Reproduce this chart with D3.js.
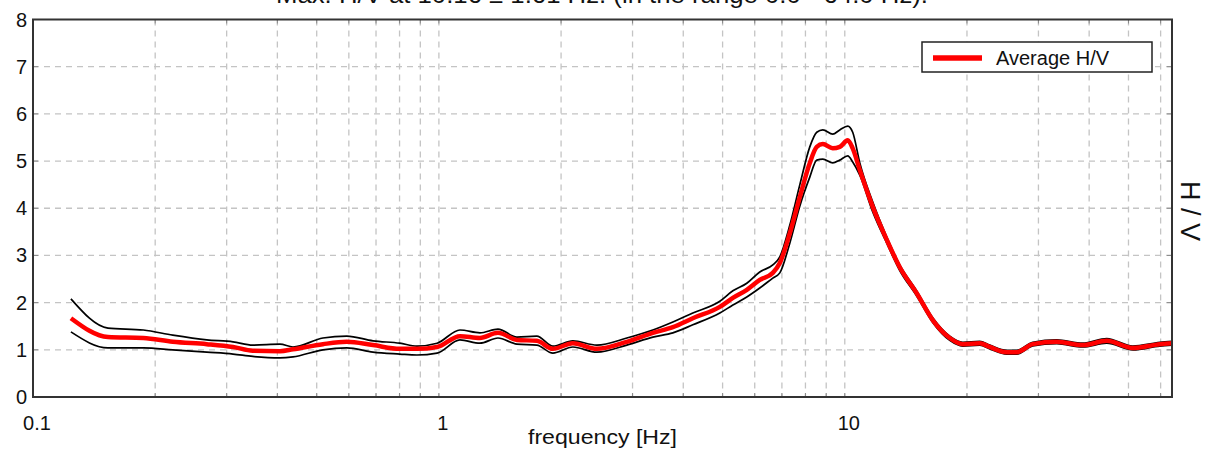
<!DOCTYPE html>
<html><head><meta charset="utf-8">
<script src="https://cdn.jsdelivr.net/npm/d3@7"></script>
<style>body{margin:0;background:#fff}svg{display:block;font-family:Arial,"Liberation Sans",sans-serif}</style>
</head><body><svg id="c" width="1208" height="450"></svg>
<script>
const freq = [0.124,0.153,0.187,0.221,0.268,0.311,0.348,0.406,0.437,0.518,0.593,0.688,0.801,0.883,0.99,1.127,1.262,1.398,1.557,1.743,1.909,2.138,2.45,2.904,3.366,3.771,4.223,4.922,5.30,5.736,6.174,6.648,6.917,7.32,7.75,8.20,8.53,8.83,9.34,9.72,10.17,10.46,10.89,11.72,12.69,13.66,15.04,16.47,18.14,19.53,21.5,22.76,25.06,26.52,29.04,33.29,38.57,44.19,51.21,59.7,64];
const avgHV = [1.67,1.27,1.25,1.17,1.12,1.06,0.98,0.97,1.01,1.12,1.17,1.10,1.02,1.02,1.06,1.29,1.25,1.36,1.21,1.19,1.02,1.14,1.02,1.17,1.36,1.48,1.67,1.91,2.10,2.27,2.48,2.63,2.84,3.47,4.24,4.96,5.30,5.36,5.27,5.30,5.44,5.27,4.81,4.03,3.33,2.75,2.20,1.63,1.25,1.12,1.14,1.06,0.95,0.95,1.12,1.17,1.10,1.19,1.04,1.12,1.14];
const upperHV = [2.08,1.46,1.42,1.31,1.21,1.17,1.10,1.12,1.06,1.25,1.29,1.19,1.14,1.08,1.14,1.42,1.36,1.44,1.27,1.29,1.08,1.19,1.10,1.25,1.42,1.59,1.78,2.03,2.25,2.41,2.65,2.80,2.97,3.64,4.50,5.30,5.61,5.66,5.57,5.66,5.74,5.61,4.96,4.13,3.39,2.80,2.25,1.68,1.29,1.16,1.18,1.10,0.99,0.99,1.16,1.21,1.14,1.24,1.08,1.16,1.18];
const lowerHV = [1.38,1.04,1.04,1.00,0.95,0.91,0.86,0.83,0.85,1.00,1.04,0.95,0.91,0.89,0.93,1.21,1.14,1.25,1.12,1.10,0.93,1.06,0.95,1.10,1.27,1.36,1.53,1.78,1.95,2.12,2.31,2.52,2.63,3.26,4.05,4.66,5.02,5.04,4.96,5.02,5.11,4.98,4.70,3.92,3.26,2.68,2.14,1.58,1.20,1.08,1.10,1.02,0.91,0.91,1.08,1.13,1.06,1.14,1.00,1.08,1.10];
const yTicks = [0,1,2,3,4,5,6,7,8];
const xTickLabels = [0.1,1,10];
const titleText = "Max. H/V at 10.16 \u00b1 1.61 Hz. (in the range 0.0 - 64.0 Hz).";
const xLabel = "frequency [Hz]";
const yLabel = "H / V";
const legendLabel = "Average H/V";

const svg = d3.select("#c");
const L = 33, R = 1172, T = 19.5, B = 397;
const x = d3.scaleLog().domain([0.1, 64]).range([L, R]);
const y = d3.scaleLinear().domain([0, 8]).range([B, T]);
const txt = "#111";

// title (cut at the top edge, as in the reference)
svg.append("text").attr("x", 276).attr("y", 3)
  .attr("font-size", 24).attr("fill", txt)
  .attr("textLength", 652).attr("lengthAdjust", "spacingAndGlyphs").text(titleText);

// grid
const gridX = x.ticks().filter(d => d > 0.1 && d < 64);
const g = svg.append("g").attr("stroke", "#c4c4c4").attr("stroke-width", 1.3).attr("stroke-dasharray", "6,5");
g.selectAll(".gx").data(gridX).join("line")
  .attr("x1", d => x(d)).attr("x2", d => x(d)).attr("y1", T).attr("y2", B);
g.selectAll(".gy").data(yTicks.filter(d => d > 0 && d < 8)).join("line")
  .attr("x1", L).attr("x2", R).attr("y1", d => y(d)).attr("y2", d => y(d));

// inward ticks
const tk = svg.append("g").attr("stroke", "#888").attr("stroke-width", 1);
tk.selectAll(".tt").data(gridX).join("line")
  .attr("x1", d => x(d)).attr("x2", d => x(d)).attr("y1", T).attr("y2", T + 4);
tk.selectAll(".tb").data(gridX).join("line")
  .attr("x1", d => x(d)).attr("x2", d => x(d)).attr("y1", B).attr("y2", B - 4);
tk.selectAll(".tr").data(yTicks).join("line")
  .attr("x1", R).attr("x2", R - 5).attr("y1", d => y(d)).attr("y2", d => y(d));
tk.selectAll(".tl").data(yTicks).join("line")
  .attr("x1", L).attr("x2", L + 5).attr("y1", d => y(d)).attr("y2", d => y(d));

// curves
const pts = (arr) => freq.map((f, i) => [f, arr[i]]);
const line = d3.line().x(d => x(d[0])).y(d => y(d[1])).curve(d3.curveMonotoneX);
svg.append("clipPath").attr("id", "cp").append("rect")
  .attr("x", L).attr("y", T).attr("width", R - L).attr("height", B - T);
const cg = svg.append("g").attr("clip-path", "url(#cp)");
cg.append("path").attr("d", line(pts(upperHV))).attr("fill", "none").attr("stroke", "#000").attr("stroke-width", 1.7);
cg.append("path").attr("d", line(pts(lowerHV))).attr("fill", "none").attr("stroke", "#000").attr("stroke-width", 1.7);
cg.append("path").attr("d", line(pts(avgHV))).attr("fill", "none").attr("stroke", "#ff0000").attr("stroke-width", 4.5);

// frame
svg.append("rect").attr("x", L).attr("y", T).attr("width", R - L).attr("height", B - T)
  .attr("fill", "none").attr("stroke", "#333").attr("stroke-width", 2);

// axis labels
svg.selectAll(".yl").data(yTicks).join("text")
  .attr("x", 27).attr("y", d => y(d) + 7).attr("text-anchor", "end")
  .attr("font-size", 20).attr("fill", txt).text(d => d);
svg.selectAll(".xl").data(xTickLabels).join("text")
  .attr("x", d => x(d) + 4).attr("y", 430).attr("text-anchor", "middle")
  .attr("font-size", 20).attr("fill", txt).text(d => d);
svg.append("text").attr("x", 528).attr("y", 444)
  .attr("font-size", 20).attr("fill", txt)
  .attr("textLength", 149).attr("lengthAdjust", "spacingAndGlyphs").text(xLabel);
svg.append("text").attr("transform", "translate(1181,211) rotate(90)").attr("text-anchor", "middle")
  .attr("font-size", 27).attr("fill", txt).text(yLabel);

// legend
const lg = svg.append("g");
lg.append("rect").attr("x", 922).attr("y", 42).attr("width", 230).attr("height", 30)
  .attr("fill", "#fff").attr("stroke", "#222").attr("stroke-width", 1.5);
lg.append("line").attr("x1", 933).attr("x2", 982).attr("y1", 58).attr("y2", 58)
  .attr("stroke", "#ff0000").attr("stroke-width", 5.5);
lg.append("text").attr("x", 996).attr("y", 65).attr("font-size", 20).attr("fill", txt).text(legendLabel);
</script></body></html>
